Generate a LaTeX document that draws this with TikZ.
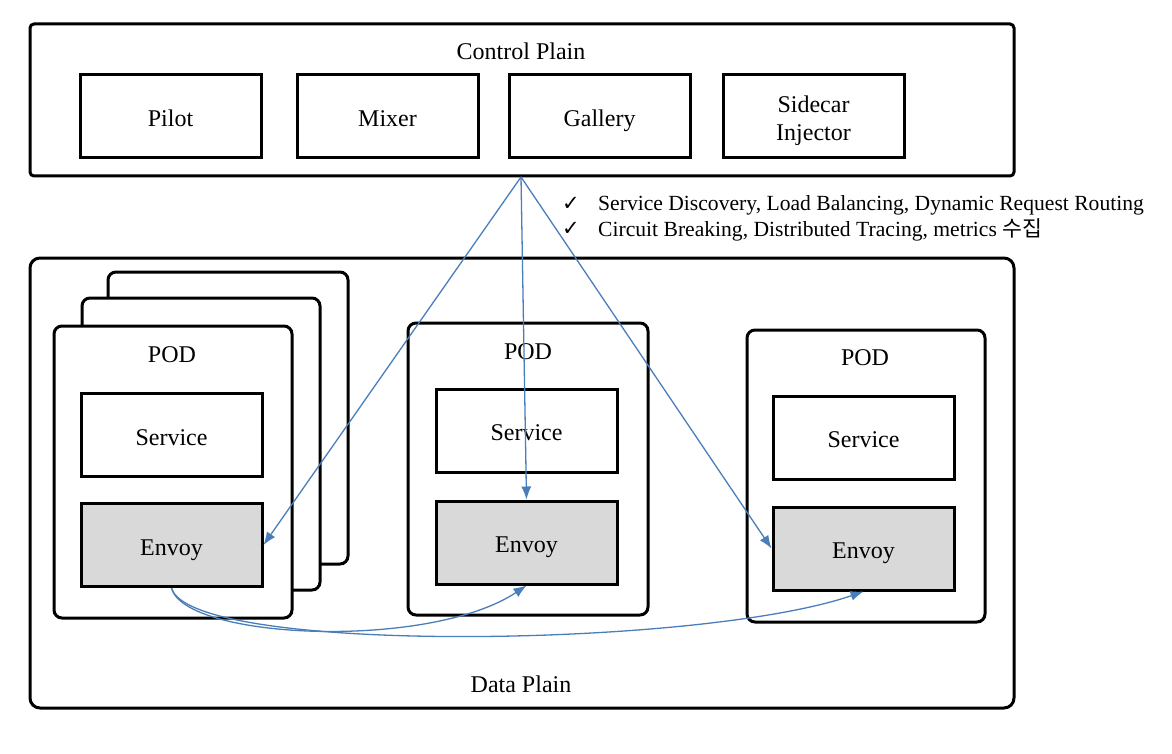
\documentclass[tikz,border=0pt]{standalone}
\usepackage{fontspec}
\setmainfont{Liberation Serif}
\newfontfamily\symfont{DejaVu Sans}
\newfontfamily\cjk{Noto Sans CJK KR}
\usepackage{xcolor}
\usetikzlibrary{arrows.meta,positioning}

\definecolor{linkblue}{HTML}{4A7EBB}
\definecolor{envoygray}{HTML}{D9D9D9}

\tikzset{
    comp/.style={draw, line width=3pt, minimum width=181pt, minimum height=83pt,
        align=center, inner sep=0pt, text height=20pt, text depth=0pt,
        font=\fontsize{24}{28}\selectfont},
    envoybox/.style={comp, fill=envoygray},
    title/.style={inner sep=0pt, text height=20pt, text depth=0pt, font=\fontsize{24}{28}\selectfont},
    tick/.style={inner sep=0pt, font=\symfont\fontsize{21}{24}\selectfont},
    feature/.style={anchor=west, inner sep=0pt, font=\fontsize{21.6}{25}\selectfont},
    link/.style={draw=linkblue, line width=1.3pt, -{Latex[length=13pt,width=10pt]}}
}

\begin{document}
\begin{tikzpicture}[x=1pt, y=-1pt]
                \useasboundingbox (0,0) rectangle (1172,754);

                % control plain
                \draw[
                    line width=3pt,
                    rounded corners=4pt
                ] (30,24) rectangle (1014,176);
                \node[title] (ctrltitle) at (521,50) {Control Plain};

                \node[comp] (pilot) at (170.5,116.5) {Pilot};
                \node[comp, right=33pt of pilot] (mixer) {Mixer};
                \node[comp, right=28pt of mixer] (gallery) {Gallery};
                \node[comp, right=30pt of gallery, text height=48pt] (injector) {Sidecar\\Injector};

                \coordinate (hub) at (521,177);

                \node[tick] (tickA) at (571,204) {✓};
                \node[tick] (tickB) at (571,229) {✓};
                \node[feature] (featA) at (598,205) {Service Discovery, Load Balancing, Dynamic Request Routing};
                \node[feature] (featB) at (598,230) {Circuit Breaking, Distributed Tracing, metrics {\cjk 수집}};

                % data plain
                \draw[
                    line width=3pt,
                    rounded corners=10pt
                ] (30,258) rectangle (1014,708);
                \node[title] (datatitle) at (521,682) {Data Plain};

                % stacked pods
                \draw[
                    line width=3pt,
                    rounded corners=8pt,
                    fill=white
                ] (108,272) rectangle (348,564);
                \draw[
                    line width=3pt,
                    rounded corners=8pt,
                    fill=white
                ] (82,298) rectangle (320,590);
                \draw[
                    line width=3pt,
                    rounded corners=8pt,
                    fill=white
                ] (54,326) rectangle (292,618);
                \node[title] (podAtitle) at (172,352) {POD};
                \node[comp] (serviceA) at (171.5,435) {Service};
                \node[envoybox] (envoyA) at (171.5,545) {Envoy};

                \draw[
                    line width=3pt,
                    rounded corners=8pt
                ] (408,323) rectangle (648,615);
                \node[title] (podBtitle) at (528,349) {POD};
                \node[comp] (serviceB) at (526.5,430.5) {Service};
                \node[envoybox] (envoyB) at (526.5,542.5) {Envoy};

                \draw[
                    line width=3pt,
                    rounded corners=8pt
                ] (747,330) rectangle (985,622);
                \node[title] (podCtitle) at (865,355) {POD};
                \node[comp] (serviceC) at (863.5,437.5) {Service};
                \node[envoybox] (envoyC) at (863.5,548.5) {Envoy};

                % links
                \draw[link] (hub) -- (envoyA.east);
                \draw[link] (hub) -- (envoyB.north);
                \draw[link] (hub) -- (envoyC.west);
                \draw[link] (envoyA.south) .. controls (185,640) and (430,650) .. (envoyB.south);
                \draw[link] (envoyA.south) .. controls (190,655) and (700,648) .. (envoyC.south);

             \end{tikzpicture}
\end{document}
